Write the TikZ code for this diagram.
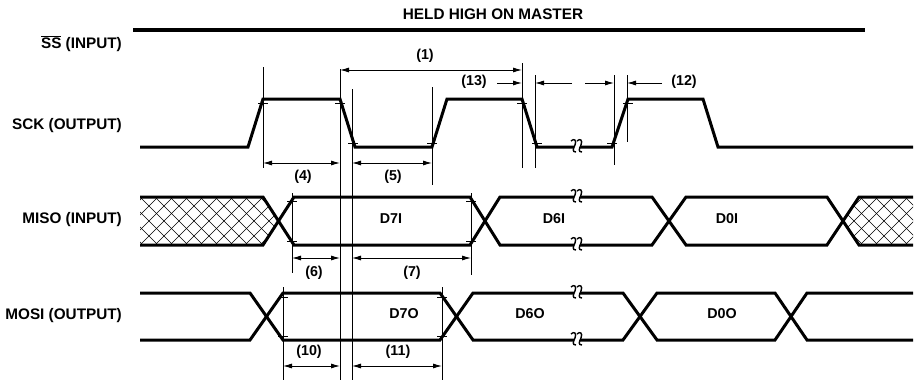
\documentclass[tikz,border=0pt]{standalone}
\usepackage{fontspec}
\setmainfont{Liberation Sans}
\usetikzlibrary{arrows.meta}
\begin{document}
\begin{tikzpicture}[x=1pt,y=-1pt,
  sig/.style={line width=3pt, line join=miter},
  vline/.style={line width=0.9pt},
  dimarr/.style={line width=0.9pt, {Latex[length=9pt,width=5pt]}-{Latex[length=9pt,width=5pt]}},
  onearr/.style={line width=0.9pt, -{Latex[length=9pt,width=5pt]}},
  hatchln/.style={line width=0.5pt},
  lbl/.style={font=\fontsize{15.3}{17}\selectfont\bfseries, inner sep=0pt},
  dl/.style={font=\fontsize{14.3}{16}\selectfont\bfseries, inner sep=0pt},
  brk/.pic={
    \fill[white] (-3,-3.5) rectangle (3,3.5);
    \draw[line width=1.4pt] (-6,-5) .. controls (-3,-8) and (0,-6) .. (-2,-1) .. controls (-4,3) and (-5,6) .. (-1,6);
    \draw[line width=1.4pt] (0,-5) .. controls (3,-8) and (6,-6) .. (4,-1) .. controls (2,3) and (1,6) .. (5,6);
  }
]
\useasboundingbox (0,0) rectangle (914,380);

% labels
\node[lbl] (held) at (493,14) {HELD HIGH ON MASTER};
\node[lbl, anchor=east] (ssl) at (122,44) {$\overline{\hbox{\bfseries SS}}$ (INPUT)};
\node[lbl, anchor=east] (sckl) at (122,126) {SCK (OUTPUT)};
\node[lbl, anchor=east] (misol) at (122,220) {MISO (INPUT)};
\node[lbl, anchor=east] (mosil) at (122,316) {MOSI (OUTPUT)};

% SS line
\draw[line width=3.5pt] (133,30) -- (865,30);

% vertical reference lines
\draw[vline] (263,67) -- (263,168);
\draw[vline] (340,69) -- (340,380);
\draw[vline] (352,89) -- (352,380);
\draw[vline] (432,87) -- (432,185);
\draw[vline] (522,63) -- (522,168);
\draw[vline] (535,75) -- (535,168);
\draw[vline] (614,75) -- (614,165);
\draw[vline] (627,75) -- (627,142);
\draw[vline] (292,193) -- (292,273);
\draw[vline] (471,193) -- (471,275);
\draw[vline] (283,287) -- (283,380);
\draw[vline] (442,287) -- (442,380);

% SCK
\draw[sig] (140,147) -- (248,147) -- (263,99) -- (340,99) -- (355,147) -- (432,147) -- (447,99) -- (522,99) -- (537,147) -- (612,147) -- (628,99) -- (703,99) -- (718,147) -- (913,147);

% MISO hatch regions
\begin{scope}
\clip (140,197) -- (263,197) -- (278.5,221) -- (263,245) -- (140,245) -- cycle;
\foreach \i in {0,...,16} {
  \draw[hatchln] (80+\i*15,197) -- ++(48,48);
  \draw[hatchln] (80+\i*15,245) -- ++(48,-48);
}
\end{scope}
\begin{scope}
\clip (913,197) -- (859,197) -- (843,221) -- (859,245) -- (913,245) -- cycle;
\foreach \i in {0,...,8} {
  \draw[hatchln] (800+\i*15,197) -- ++(48,48);
  \draw[hatchln] (800+\i*15,245) -- ++(48,-48);
}
\end{scope}

% MISO
\draw[sig] (140,197) -- (263,197) -- (278.5,221) -- (263,245) -- (140,245);
\draw[sig] (278.5,221) -- (294,197) -- (470,197) -- (485,221) -- (470,245) -- (294,245) -- cycle;
\draw[sig] (485,221) -- (500,197) -- (652,197) -- (669,221) -- (652,245) -- (500,245) -- cycle;
\draw[sig] (669,221) -- (686,197) -- (827,197) -- (843,221) -- (827,245) -- (686,245) -- cycle;
\draw[sig] (913,197) -- (859,197) -- (843,221) -- (859,245) -- (913,245);

% MOSI
\draw[sig] (140,293) -- (250,293) -- (266.5,316.5) -- (250,340) -- (140,340);
\draw[sig] (266.5,316.5) -- (283,293) -- (440,293) -- (456.5,316.5) -- (440,340) -- (283,340) -- cycle;
\draw[sig] (456.5,316.5) -- (473,293) -- (623,293) -- (640,316.5) -- (623,340) -- (473,340) -- cycle;
\draw[sig] (640,316.5) -- (657,293) -- (775,293) -- (791,316.5) -- (775,340) -- (657,340) -- cycle;
\draw[sig] (913,293) -- (807,293) -- (791,316.5) -- (807,340) -- (913,340);

% break marks
\pic at (577,146) {brk};
\pic at (577,196) {brk};
\pic at (577,244) {brk};
\pic at (577,292) {brk};
\pic at (577,339) {brk};

% ticks
\foreach \p in {(263,103),(340,103),(353,143),(432,143),(522,103),(537,143),(612,143),(628,103),
                (292,201),(292,241),(471,201),(471,241),
                (283,297),(283,336),(442,297),(442,336)} {
  \draw[vline] \p ++(-5,0) -- ++(10,0);
}

% data labels
\node[dl] (d7i) at (391,219) {D7I};
\node[dl] (d6i) at (554,219) {D6I};
\node[dl] (d0i) at (727,219) {D0I};
\node[dl] (d7o) at (404,314) {D7O};
\node[dl] (d6o) at (530,314) {D6O};
\node[dl] (d0o) at (722,314) {D0O};

% dimensions
\draw[dimarr] (340,70) -- (522,70);
\node[dl] (t1) at (425,56) {(1)};
\draw[onearr] (497,83) -- (522,83);
\node[dl] (t13) at (474,82) {(13)};
\draw[onearr] (572,83) -- (535,83);
\draw[onearr] (585,83) -- (614,83);
\draw[onearr] (662,83) -- (627,83);
\node[dl] (t12) at (684,82) {(12)};

\draw[dimarr] (263,163) -- (340,163);
\node[dl] (t4) at (303,177) {(4)};
\draw[dimarr] (352,163) -- (432,163);
\node[dl] (t5) at (393,177) {(5)};

\draw[dimarr] (292,258) -- (340,258);
\node[dl] (t6) at (314,273) {(6)};
\draw[dimarr] (352,258) -- (471,258);
\node[dl] (t7) at (412,273) {(7)};

\draw[dimarr] (283,366) -- (340,366);
\node[dl] (t10) at (309,352) {(10)};
\draw[dimarr] (352,366) -- (442,366);
\node[dl] (t11) at (398,352) {(11)};
\end{tikzpicture}
\end{document}
